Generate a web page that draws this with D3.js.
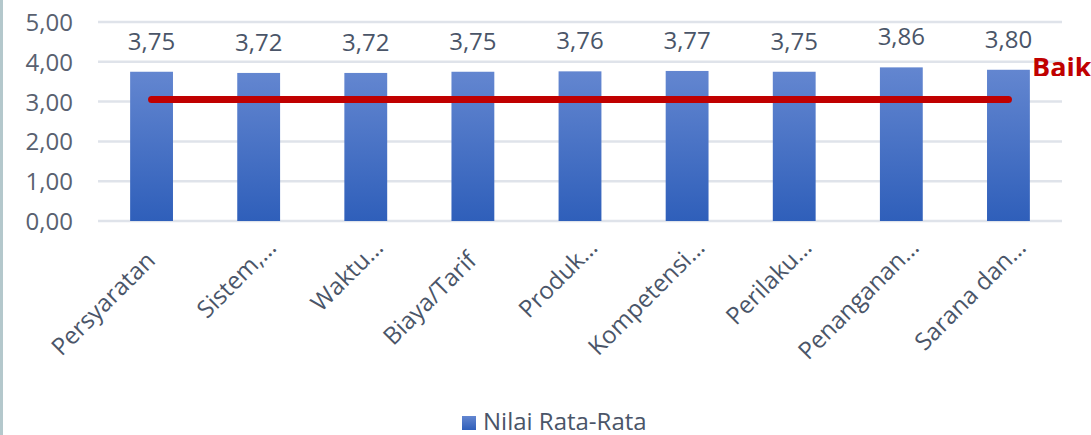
<!DOCTYPE html>
<html><head><meta charset="utf-8">
<script src="https://cdn.jsdelivr.net/npm/d3@7"></script>
<style>
html,body{margin:0;padding:0;background:#fff;}
svg{display:block;font-family:"Open Sans",sans-serif;}
</style></head>
<body><svg id="c" width="1091" height="435"></svg>
<script>
const categories = ["Persyaratan","Sistem,…","Waktu…","Biaya/Tarif","Produk…","Kompetensi…","Perilaku…","Penanganan…","Sarana dan…"];
const values = [3.75,3.72,3.72,3.75,3.76,3.77,3.75,3.86,3.80];
const yTicks = [0,1,2,3,4,5];
const threshold = 3.05;
const thresholdLabel = "Baik";
const seriesName = "Nilai Rata-Rata";

const svg = d3.select("#c");
const W = 1091, H = 435;
const m = {left: 98, right: 1062, top: 22, bottom: 221};
const txt = "#4a5568";

// left border strip
svg.append("rect").attr("x",0).attr("y",0).attr("width",3).attr("height",H).attr("fill","#b4c8cc");

const x = d3.scaleBand().domain(categories).range([m.left, m.right]).paddingInner(0.6).paddingOuter(0.3);
const y = d3.scaleLinear().domain([0,5]).range([m.bottom, m.top]);

const defs = svg.append("defs");
const g = defs.append("linearGradient").attr("id","bg").attr("x1",0).attr("y1",0).attr("x2",0).attr("y2",1);
g.append("stop").attr("offset","0%").attr("stop-color","#6386d0");
g.append("stop").attr("offset","100%").attr("stop-color","#2f5fba");
defs.append("clipPath").attr("id","clipAll").append("rect").attr("x",0).attr("y",0).attr("width",W).attr("height",76);

// gridlines
svg.append("g").selectAll("line").data(yTicks).join("line")
  .attr("x1",m.left).attr("x2",m.right)
  .attr("y1",d=>y(d)).attr("y2",d=>y(d))
  .attr("stroke","#dfe3ea").attr("stroke-width",2.5);

// y labels
const yAxis = d3.axisLeft(y).tickValues(yTicks).tickSize(0).tickPadding(0)
  .tickFormat(d=>d3.format(".2f")(d).replace(".",","));
const ya = svg.append("g").attr("transform","translate(73,0)").call(yAxis);
ya.select(".domain").remove();
ya.selectAll("text").attr("font-size",24).attr("fill","#596170").attr("font-family","Open Sans, sans-serif").attr("dy","0.35em");

// bars
svg.append("g").selectAll("rect").data(values).join("rect")
  .attr("x",(d,i)=>x(categories[i]))
  .attr("width",x.bandwidth())
  .attr("y",d=>y(d))
  .attr("height",d=>y(0)-y(d))
  .attr("fill","url(#bg)");

// value labels
svg.append("g").selectAll("text").data(values).join("text")
  .attr("x",(d,i)=>x(categories[i])+x.bandwidth()/2)
  .attr("y",d=>y(d)-22)
  .attr("text-anchor","middle")
  .attr("font-size",24).attr("fill",txt)
  .text(d=>d3.format(".2f")(d).replace(".",","));

// threshold line
const cx = c=>x(c)+x.bandwidth()/2;
svg.append("line")
  .attr("x1",cx(categories[0])).attr("x2",cx(categories[categories.length-1]))
  .attr("y1",y(threshold)).attr("y2",y(threshold))
  .attr("stroke","#c00000").attr("stroke-width",7).attr("stroke-linecap","round");
svg.append("text").attr("x",1032).attr("y",77)
  .attr("clip-path","url(#clipAll)")
  .attr("font-size",27).attr("font-weight","bold").attr("fill","#c00000")
  .text(thresholdLabel);

// x labels
const xa = svg.append("g").attr("transform",`translate(0,${m.bottom})`)
  .call(d3.axisBottom(x).tickSize(0).tickPadding(0));
xa.select(".domain").remove();
xa.selectAll("text")
  .attr("font-size",24).attr("fill",txt).attr("font-family","Open Sans, sans-serif")
  .attr("text-anchor","end")
  .attr("dy",0)
  .attr("transform",d=> d.endsWith("…") ? "translate(19,28) rotate(-45)" : "translate(5,41) rotate(-45)");

// legend
const lg = svg.append("g").attr("transform","translate(462,416)");
lg.append("rect").attr("width",14).attr("height",14).attr("fill","url(#bg)");
lg.append("text").attr("x",21).attr("y",14).attr("font-size",24).attr("fill",txt).text(seriesName);
</script></body></html>
